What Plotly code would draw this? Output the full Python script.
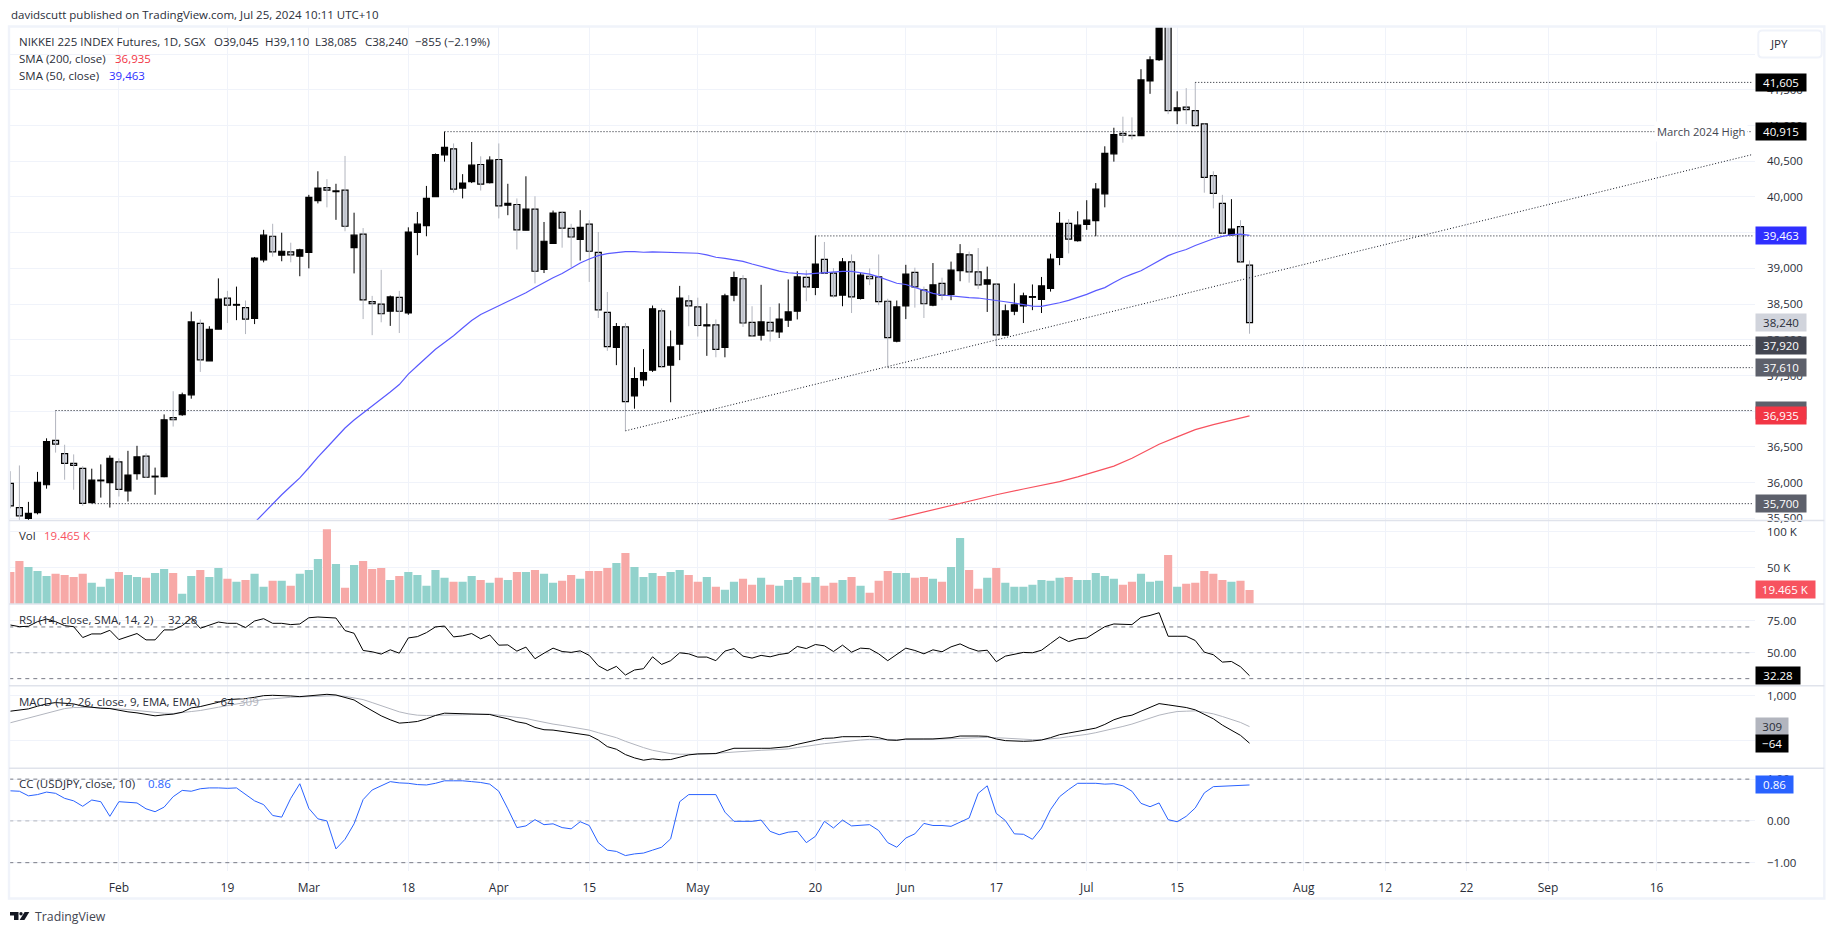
import plotly.graph_objects as go
from plotly.subplots import make_subplots

W = 1835
H = 939

# bar number 0 is the partly cut candle at the left edge, 137 is the last session
opens = [35990, 35650, 35500, 35580, 35970, 36590, 36405, 36270, 36200, 35720,
         36025, 36000, 36290, 35885, 36125, 36370, 36080, 36085, 36910, 36950,
         37230, 38230, 37705, 38150, 38585, 38485, 38450, 38300, 39120, 39450,
         39185, 39230, 39170, 39225, 39950, 40130, 40075, 40095, 39290, 39480,
         38535, 38500, 38400, 38595, 38375, 39505, 39600, 40005, 40590, 40675,
         40125, 40215, 40455, 40200, 40525, 39885, 39895, 39535, 39830, 38985,
         39350, 39785, 39560, 39405, 39620, 39225, 38385, 37895, 38180, 37215,
         37440, 37575, 38405, 37645, 37940, 38545, 38460, 38195, 38210, 37895,
         38625, 38855, 38245, 38065, 38245, 38110, 38275, 38400, 38875, 38735,
         39125, 38935, 38625, 39090, 38580, 38890, 38880, 38540, 37980, 38475,
         38945, 38700, 38485, 38790, 38635, 38970, 39190, 38950, 38780, 38780,
         38065, 38400, 38475, 38595, 38565, 38720, 39155, 39630, 39390, 39615,
         39670, 40045, 40605, 40890, 40865, 40860, 41625, 41925, 42480, 41210,
         41260, 41210, 41025, 40300, 39910, 39470, 39585, 39045]
highs = [36160, 36240, 35730, 36150, 36620, 37010, 36530, 36395, 36230, 36195,
         36255, 36380, 36340, 36445, 36515, 36410, 36210, 36955, 37280, 37260,
         38395, 38285, 38190, 38860, 38685, 38745, 38550, 39160, 39540, 39625,
         39500, 39360, 39275, 40030, 40360, 40250, 40185, 40575, 39780, 39565,
         38615, 38980, 38620, 38685, 39575, 39790, 40155, 40610, 40915, 40750,
         40320, 40770, 40570, 40570, 40750, 40185, 39980, 40290, 40010, 39650,
         39810, 39800, 39625, 39815, 39675, 39510, 38670, 38235, 38235, 37615,
         37870, 38480, 38440, 38130, 38755, 38625, 38590, 38510, 38285, 38645,
         38955, 38905, 38470, 38770, 38460, 38510, 38845, 38960, 38975, 39460,
         39370, 39005, 39145, 39195, 38935, 39000, 39195, 38575, 38550, 39050,
         39010, 38745, 39075, 38870, 39095, 39340, 39235, 39285, 39025, 38790,
         38495, 38790, 38660, 38775, 38880, 39205, 39790, 39690, 39800, 39955,
         40195, 40710, 40970, 41125, 41115, 41790, 41970, 42500, 42600, 41480,
         41525, 41605, 41030, 40360, 40030, 39970, 39675, 39110]
lows = [35640, 35475, 35475, 35555, 35915, 36420, 36040, 35900, 35675, 35710,
        35790, 35650, 35805, 35735, 36040, 36065, 35830, 36075, 36785, 36935,
        37175, 37550, 37705, 38150, 38235, 38275, 38080, 38220, 39085, 39165,
        39100, 39085, 38890, 39000, 39910, 39855, 39680, 39520, 38930, 38290,
        38065, 38245, 38195, 38095, 38350, 39185, 39450, 40005, 40495, 40060,
        39980, 40195, 40090, 40190, 39700, 39745, 39265, 39535, 38790, 38935,
        39350, 39290, 39015, 39110, 38810, 38305, 37845, 37645, 36725, 37035,
        37350, 37550, 37615, 37125, 37715, 38190, 38045, 37775, 37755, 37755,
        38540, 38180, 38045, 37990, 37975, 38025, 38180, 38285, 38540, 38625,
        38920, 38590, 38470, 38375, 38565, 38765, 38485, 37625, 37965, 38290,
        38450, 38305, 38470, 38555, 38555, 38820, 38800, 38710, 38390, 37920,
        38055, 38345, 38235, 38415, 38375, 38675, 39045, 39210, 39375, 39540,
        39450, 39855, 40495, 40760, 40805, 40860, 41445, 41905, 41160, 41020,
        41020, 40995, 40060, 39840, 39485, 39460, 39085, 38085]
closes = [35675, 35535, 35570, 36005, 36575, 36540, 36270, 36240, 35710, 36035,
          36035, 36340, 35905, 36105, 36360, 36075, 36090, 36880, 36880, 37230,
          38250, 37720, 38145, 38570, 38485, 38495, 38290, 39145, 39465, 39230,
          39240, 39190, 39260, 39995, 40125, 40095, 40085, 39590, 39465, 38560,
          38505, 38365, 38600, 38400, 39510, 39620, 39980, 40595, 40695, 40110,
          40195, 40445, 40180, 40515, 39875, 39910, 39540, 39830, 38960, 39380,
          39775, 39565, 39440, 39575, 39240, 38420, 37905, 38185, 37135, 37455,
          37540, 38435, 37625, 37900, 38585, 38475, 38200, 38210, 37865, 38615,
          38870, 38235, 38055, 38250, 38125, 38290, 38390, 38880, 38740, 39060,
          38935, 38615, 39090, 38600, 38905, 38855, 38535, 38030, 38460, 38920,
          38740, 38505, 38770, 38625, 38975, 39205, 38950, 38770, 38840, 38070,
          38405, 38490, 38615, 38605, 38755, 39130, 39630, 39410, 39605, 39675,
          40110, 40610, 40875, 40865, 40860, 41640, 41920, 42435, 41210, 41250,
          41225, 41000, 40275, 40050, 39495, 39550, 39090, 38240]

# first value belongs to bar 27
sma50 = [35440, 35571, 35703, 35830, 35948, 36066, 36208, 36358, 36491, 36632,
         36764, 36877, 36972, 37080, 37170, 37269, 37373, 37519, 37637, 37755,
         37868, 37962, 38057, 38165, 38269, 38354, 38415, 38472, 38528, 38590,
         38660, 38731, 38802, 38868, 38929, 39005, 39075, 39132, 39179, 39208,
         39226, 39236, 39236, 39226, 39231, 39226, 39217, 39217, 39217, 39212,
         39189, 39156, 39141, 39123, 39099, 39061, 39028, 38991, 38962, 38939,
         38925, 38920, 38929, 38939, 38948, 38958, 38958, 38943, 38920, 38882,
         38840, 38792, 38774, 38731, 38693, 38651, 38627, 38613, 38599, 38590,
         38585, 38571, 38557, 38533, 38514, 38490, 38472, 38467, 38490, 38519,
         38552, 38594, 38637, 38689, 38731, 38802, 38868, 38920, 38967, 39038,
         39108, 39179, 39226, 39264, 39321, 39368, 39415, 39448, 39472, 39481,
         39463]
sma200_bars = [97, 99, 101, 104, 106, 109, 112, 114, 116, 118, 120, 122, 124, 126, 127, 129, 131, 133, 135, 137]
sma200 = [35467, 35528, 35585, 35684, 35736, 35830, 35910, 35957, 36014, 36080,
          36156, 36231, 36340, 36467, 36538, 36641, 36741, 36811, 36877, 36935]

volume = [44.3, 59.4, 51.1, 45.7, 38.8, 41.6, 40.2, 37.4, 41.6, 29.2,
          23.7, 34.7, 44.3, 40.2, 37.4, 36.1, 42.9, 48.4, 42.9, 14.2,
          38.8, 47.0, 37.4, 49.8, 34.7, 30.6, 33.3, 41.6, 23.7, 32.0,
          32.0, 25.1, 41.6, 47.0, 62.1, 103.2, 55.3, 22.4, 53.9, 59.4,
          48.4, 49.8, 33.3, 38.8, 44.3, 40.2, 25.1, 47.0, 36.1, 30.6,
          30.6, 38.8, 33.3, 29.2, 36.1, 33.3, 44.3, 44.3, 47.0, 41.6,
          29.2, 32.0, 40.2, 34.7, 45.7, 45.7, 49.8, 56.6,
          70.3, 51.1, 37.4, 42.9, 38.8, 44.3, 47.0, 40.2, 30.6, 37.4,
          23.7, 19.6, 30.6, 34.7, 26.5, 36.1, 26.5, 25.1, 33.3, 37.4,
          29.2, 37.4, 25.1, 29.2, 33.3, 37.4, 25.1, 15.5, 32.0, 45.7,
          42.9, 42.9, 36.1, 37.4, 34.7, 30.6, 51.1, 90.9, 47.0, 21.0,
          36.1, 49.8, 29.2, 23.7, 23.7, 26.5, 33.3, 32.0, 36.1, 37.4,
          33.3, 33.3, 42.9, 38.8, 34.7, 26.5, 30.6, 41.6, 30.6, 32.0,
          67.6, 23.7, 27.9, 29.2, 45.7, 41.6, 33.3, 30.6, 32.0, 19.465]

rsi = [71.5, 70.2, 70.5, 74.1, 76.1, 74.1, 71.0, 70.2, 61.8, 64.6,
       64.6, 67.4, 60.2, 62.5, 64.9, 60.0, 60.0, 67.7, 67.7, 71.0,
       76.6, 69.0, 71.5, 73.8, 72.8, 72.8, 69.5, 74.6, 76.4, 72.8,
       72.8, 71.8, 72.3, 77.1, 77.7, 77.1, 76.9, 67.2, 65.1, 51.8,
       50.8, 49.0, 52.3, 49.7, 61.5, 62.5, 65.6, 70.0, 70.7, 62.3,
       63.1, 64.9, 60.8, 63.8, 55.9, 56.1, 51.3, 54.4, 45.4, 49.7,
       53.6, 51.0, 50.3, 51.5, 48.0, 40.0, 36.2, 39.5,
       32.8, 36.7, 37.7, 46.9, 41.0, 43.9, 50.0, 49.2, 46.7, 46.7,
       43.9, 51.3, 53.3, 47.4, 45.9, 48.0, 46.9, 48.7, 49.7, 54.9,
       53.3, 56.4, 55.4, 51.0, 55.9, 50.5, 53.6, 53.1, 49.2, 43.9,
       48.7, 53.6, 51.8, 49.2, 52.3, 50.8, 54.6, 56.9, 53.6, 51.3,
       52.0, 43.1, 47.4, 48.7, 50.3, 50.0, 52.0, 57.2, 62.3, 58.7,
       60.8, 61.5, 65.9, 70.2, 72.3, 72.0, 71.8, 77.4, 78.9, 81.0,
       62.8, 62.8, 62.8, 59.5, 50.5, 48.5, 42.8, 43.3, 39.2, 32.28]

macd = [657, 687, 709, 769, 821, 851, 843, 821, 769, 739,
        724, 716, 672, 642, 619, 582, 552, 575, 590, 634,
        731, 761, 806, 858, 918, 925, 940, 970, 1007, 1015,
        1015, 1000, 985, 1007, 1030, 1037, 1022, 970, 910, 784,
        664, 552, 463, 388, 403, 425, 485, 560, 612, 604,
        597, 597, 597, 582, 530, 485, 418, 381, 291, 239,
        231, 201, 172, 157, 112, 7, -142, -201,
        -321, -396, -448, -418, -440, -433, -373, -328, -306, -299,
        -299, -239, -179, -179, -187, -179, -179, -164, -142, -90,
        -52, 0, 45, 52, 82, 75, 82, 90, 60, 7,
        0, 30, 37, 30, 30, 37, 60, 97, 104, 97,
        90, 30, -7, -22, -22, -15, 7, 60, 127, 164,
        201, 231, 276, 358, 463, 530, 567, 657, 739, 828,
        799, 769, 739, 687, 590, 485, 343, 231, 112, -64]
macd_signal = [396, 448, 500, 560, 619, 672, 716, 739, 746, 739,
               731, 724, 709, 694, 672, 649, 627, 612, 604, 619,
               649, 672, 702, 746, 784, 813, 858, 888, 918, 940,
               955, 970, 978, 985, 1000, 1007, 1007, 993, 963, 918,
               851, 784, 709, 642, 597, 567, 560, 560, 567, 575,
               575, 582, 590, 590, 567, 545, 522, 493, 448, 403,
               366, 336, 306, 276, 231, 172, 112, 60,
               -22, -97, -164, -224, -269, -299, -313, -321, -313, -306,
               -291, -276, -254, -239, -231, -224, -216, -209, -194, -164,
               -127, -104, -75, -52, -30, -7, 7, 22, 30, 22,
               15, 22, 22, 30, 30, 30, 37, 52, 60, 67,
               67, 60, 45, 30, 22, 15, 15, 30, 52, 82,
               104, 134, 172, 216, 269, 313, 366, 433, 500, 567,
               612, 649, 657, 664, 634, 597, 537, 470, 403, 309]

cc = [.72, .71, .60, .63, .69, .66, .54, .48, .35, .50,
      .46, .11, .46, .45, .43, .29, .22, .33, .58, .73,
      .71, .77, .79, .79, .78, .79, .64, .48, .39, .13,
      .09, .54, .89, .30, .05, 0, -.67, -.44, -.07, .51,
      .74, .84, .94, .91, .90, .87, .86, .90, .96, .96,
      .96, .94, .92, .88, .71, .29, -.16, -.12, .03, -.09,
      -.07, -.16, -.19, -.02, -.11, -.52, -.70, -.73,
      -.83, -.79, -.77, -.70, -.63, -.43, .46, .63, .63, .63,
      .63, .21, -.01, -.01, -.01, .02, -.25, -.33, -.27, -.25,
      -.52, -.37, -.01, -.17, .02, -.12, -.11, -.09, -.23, -.52,
      -.63, -.41, -.31, -.06, -.11, -.11, -.13, -.02, .07, .66,
      .84, .18, .01, -.31, -.32, -.44, -.17, .27, .58, .75,
      .90, .90, .90, .88, .89, .84, .71, .42, .34, .43,
      .03, -.02, .11, .31, .67, .82, .83, .83, .85, .86]

# bar numbers of the date ticks, the ones after the last session are in the empty future area
tick_bars = [12, 24, 33, 44, 54, 64, 76, 89, 99, 109, 119, 129, 143, 152, 161, 170, 182]
tick_labels = ['Feb', '19', 'Mar', '18', 'Apr', '15', 'May', '20', 'Jun', '17', 'Jul', '15', 'Aug', '12', '22', 'Sep', '16']

price_ticks = [35500, 36000, 36500, 37000, 37500, 38000, 38500, 39000, 39500, 40000, 40500, 41000, 41500]

# (start bar, price) of the drawn horizontal levels
levels = [(131, 41605), (48, 40915), (89, 39455), (109, 37920), (97, 37610), (5, 37010), (9, 35705)]
trend_bars = [68, 192.6]
trend_prices = [36725, 40595]

# axis side price tags: label, price, background, text colour
price_tags = [('37,010', 37010, '#5d606b', 'white'),
              ('41,605', 41605, '#000000', 'white'),
              ('40,915', 40915, '#000000', 'white'),
              ('39,463', 39463, '#2f2fff', 'white'),
              ('38,240', 38240, '#d1d4dc', '#2a2e39'),
              ('37,920', 37920, '#434651', 'white'),
              ('37,610', 37610, '#5d606b', 'white'),
              ('36,935', 36935, '#f23645', 'white'),
              ('35,700', 35705, '#5d606b', 'white')]

TEXT = '#2a2e39'
FONT = 'Open Sans'
GRID = '#f0f3fa'
SEP = '#e0e3eb'
X_END = 192.85
LINE_END = 192.6
AXIS_X = 1754.7
FRAME_R = 1824.3
FRAME_B = 903.3


def px(x):
    return x / W


def py(y):
    return 1 - y / H


bars = list(range(len(closes)))
panes = [(26.7, 523.3, 35469, 42387), (523.3, 607.3, 0, 115.1), (607.3, 689.3, 24.6, 87.7),
         (689.3, 772.3, -628, 1233), (772.3, 875.7, -1.2, 1.262)]

fig = make_subplots(rows=5, cols=1, shared_xaxes=True, vertical_spacing=0)

# candles: thin wicks first, then the bodies
up = [i for i in bars if closes[i] >= opens[i]]
down = [i for i in bars if closes[i] < opens[i]]
for group, color in ((down, '#b2b5be'), (up, '#000000')):
    wx = []
    wy = []
    for i in group:
        wx += [i, i, None]
        wy += [lows[i], highs[i], None]
    fig.add_trace(go.Scatter(x=wx, y=wy, mode='lines', line=dict(color=color, width=1)), row=1, col=1)

for start, level in levels:
    fig.add_trace(go.Scatter(x=[start, LINE_END], y=[level, level], mode='lines',
                             line=dict(color='#131722', width=1, dash='1px,2px')), row=1, col=1)
fig.add_trace(go.Scatter(x=trend_bars, y=trend_prices, mode='lines',
                         line=dict(color='#131722', width=1, dash='1px,2px')), row=1, col=1)

for group, color in ((down, '#d1d4dc'), (up, '#000000')):
    fig.add_trace(go.Bar(x=group,
                         y=[abs(closes[i] - opens[i]) for i in group],
                         base=[min(closes[i], opens[i]) for i in group],
                         width=0.66,
                         marker=dict(color=color, line=dict(color='#000000', width=1.2))), row=1, col=1)

fig.add_trace(go.Scatter(x=bars[27:], y=sma50, mode='lines', line=dict(color='#5a5aff', width=1.2)), row=1, col=1)
fig.add_trace(go.Scatter(x=sma200_bars, y=sma200, mode='lines', line=dict(color='#f7525f', width=1.2)), row=1, col=1)

vol_colors = ['#92d2cc' if closes[i] >= opens[i] else '#f7a9a7' for i in bars]
fig.add_trace(go.Bar(x=bars, y=volume, width=0.9, marker=dict(color=vol_colors, line=dict(width=0))), row=2, col=1)


def hline(row, value, color):
    fig.add_trace(go.Scatter(x=[-1, LINE_END], y=[value, value], mode='lines',
                             line=dict(color=color, width=1, dash='4px,4px')), row=row, col=1)


hline(3, 70, '#787b86')
hline(3, 50, '#b2b5be')
hline(3, 30, '#787b86')
fig.add_trace(go.Scatter(x=bars, y=rsi, mode='lines', line=dict(color='#000000', width=1)), row=3, col=1)

fig.add_trace(go.Scatter(x=bars, y=macd_signal, mode='lines', line=dict(color='#b2b5be', width=1)), row=4, col=1)
fig.add_trace(go.Scatter(x=bars, y=macd, mode='lines', line=dict(color='#000000', width=1)), row=4, col=1)

hline(5, 1, '#787b86')
hline(5, 0, '#b2b5be')
hline(5, -1, '#787b86')
fig.add_trace(go.Scatter(x=bars, y=cc, mode='lines', line=dict(color='#2962ff', width=1)), row=5, col=1)

# axes
for n, (top, bottom, lo, hi) in enumerate(panes, start=1):
    fig.update_yaxes(row=n, col=1, domain=[py(bottom), py(top)], range=[lo, hi], side='right',
                     showgrid=True, gridcolor=GRID, gridwidth=1, zeroline=False, showline=False,
                     ticks='outside', ticklen=9, tickcolor='rgba(0,0,0,0)',
                     tickfont=dict(family=FONT, size=11.5, color=TEXT))
    fig.update_xaxes(row=n, col=1, domain=[px(9), px(AXIS_X)], range=[-0.15, X_END],
                     tickmode='array', tickvals=tick_bars, ticktext=tick_labels,
                     showgrid=True, gridcolor=GRID, gridwidth=1, zeroline=False, showline=False,
                     ticks='outside' if n == 5 else '', ticklen=6, tickcolor='rgba(0,0,0,0)',
                     showticklabels=n == 5, tickfont=dict(family=FONT, size=12, color=TEXT))

fig.update_yaxes(row=1, col=1, tickmode='array', tickvals=price_ticks + [42000],
                 ticktext=[f'{v:,}' for v in price_ticks] + [''])
fig.update_yaxes(row=2, col=1, tickmode='array', tickvals=[50, 100], ticktext=['50 K', '100 K'])
fig.update_yaxes(row=3, col=1, tickmode='array', tickvals=[50, 75], ticktext=['50.00', '75.00'])
fig.update_yaxes(row=4, col=1, tickmode='array', tickvals=[0, 1000], ticktext=['0', '1,000'])
fig.update_yaxes(row=5, col=1, tickmode='array', tickvals=[-1, 0, 1], ticktext=['\u22121.00', '0.00', '1.00'])


def label(x, y, text, color=TEXT, size=11.5):
    fig.add_annotation(xref='paper', yref='paper', x=px(x), y=py(y), text=text, showarrow=False,
                       xanchor='left', yanchor='middle', align='left',
                       font=dict(family=FONT, size=size, color=color))


def tag(row, value, text, bg, color, width=50):
    yref = 'y' if row == 1 else f'y{row}'
    fig.add_annotation(xref='paper', yref=yref, x=px(AXIS_X), y=value, text=text, showarrow=False,
                       xanchor='left', yanchor='middle', align='center', width=width, height=17,
                       bgcolor=bg, borderpad=0, font=dict(family=FONT, size=11.5, color=color))


label(9, 14.5, 'davidscutt published on TradingView.com, Jul 25, 2024 10:11 UTC+10')
label(17, 41.6, 'NIKKEI 225 INDEX Futures, 1D, SGX')
label(211.5, 41.6, 'O39,045')
label(262.8, 41.6, 'H39,110')
label(313.4, 41.6, 'L38,085')
label(362.8, 41.6, 'C38,240')
label(413, 41.6, '\u2212855 (\u22122.19%)')
label(17, 58.8, 'SMA (200, close)')
label(113.4, 58.8, '36,935', '#f23645')
label(17, 76, 'SMA (50, close)')
label(107, 76, '39,463', '#2f2fff')
label(17, 538.7, 'Vol')
label(41.5, 538.7, '19.465 K', '#f7525f')
label(17, 623, 'RSI (14, close, SMA, 14, 2)')
label(166, 623, '32.28')
label(17, 705, 'MACD (12, 26, close, 9, EMA, EMA)')
label(211.5, 705, '\u221264')
label(237, 705, '309', '#b2b5be')
label(17, 787.7, 'CC (USDJPY, close, 10)')
label(146, 787.7, '0.86', '#2962ff')
label(33, 921.7, 'TradingView', '#434651', 12.3)

for text, value, bg, color in price_tags:
    tag(1, value, text, bg, color)
tag(2, 19.465, '19.465 K', '#f7525f', 'white', 58.6)
tag(3, 32.28, '32.28', '#000000', 'white', 44)
tag(4, 309, '309', '#b2b5be', TEXT, 32.4)
tag(4, -64, '\u221264', '#000000', 'white', 32.4)
tag(5, 0.86, '0.86', '#2962ff', 'white', 37.4)

fig.add_annotation(xref='paper', yref='y', x=px(1747.7), y=40915, text='March 2024 High', showarrow=False,
                   xanchor='right', yanchor='middle', bgcolor='white', borderpad=2,
                   font=dict(family=FONT, size=11.2, color='#434651'))


def rounded(x0, y0, x1, y1, r):
    return (f'M {px(x0 + r)} {py(y0)} L {px(x1 - r)} {py(y0)} Q {px(x1)} {py(y0)} {px(x1)} {py(y0 + r)} '
            f'L {px(x1)} {py(y1 - r)} Q {px(x1)} {py(y1)} {px(x1 - r)} {py(y1)} '
            f'L {px(x0 + r)} {py(y1)} Q {px(x0)} {py(y1)} {px(x0)} {py(y1 - r)} '
            f'L {px(x0)} {py(y0 + r)} Q {px(x0)} {py(y0)} {px(x0 + r)} {py(y0)} Z')


fig.add_shape(type='rect', xref='paper', yref='paper', x0=px(9), x1=px(FRAME_R), y0=py(26.7), y1=py(FRAME_B),
              line=dict(color=GRID, width=2.4), layer='above')
for sep in (523.3, 607.3, 689.3, 772.3):
    fig.add_shape(type='line', xref='paper', yref='paper', x0=px(9), x1=px(FRAME_R), y0=py(sep), y1=py(sep),
                  line=dict(color=SEP, width=1.5), layer='above')

fig.add_shape(type='path', xref='paper', yref='paper', path=rounded(1758.3, 30.7, 1821.7, 57.7, 4),
              fillcolor='white', line=dict(color=GRID, width=2), layer='above')
label(1768, 44, 'JPY')

# TradingView mark
mark_t = [(10, 917), (18.5, 917), (18.5, 925), (14, 925), (14, 920.5), (10, 920.5)]
mark_slash = [(24.6, 917), (29.3, 917), (24.4, 925), (19.6, 925)]
for poly in (mark_t, mark_slash):
    path = 'M ' + ' L '.join(f'{px(a)} {py(b)}' for a, b in poly) + ' Z'
    fig.add_shape(type='path', xref='paper', yref='paper', path=path, fillcolor='#131722', line=dict(width=0))
fig.add_shape(type='circle', xref='paper', yref='paper', x0=px(19.3), x1=px(22.7), y0=py(920.4), y1=py(917),
              fillcolor='#131722', line=dict(width=0))

fig.update_layout(width=W, height=H, margin=dict(l=0, r=0, t=0, b=0), showlegend=False,
                  barmode='overlay', plot_bgcolor='white', paper_bgcolor='white', hovermode=False,
                  font=dict(family=FONT))

fig.write_html("out.html", config={'displayModeBar': False},
               post_script="document.body.style.margin='0';")
